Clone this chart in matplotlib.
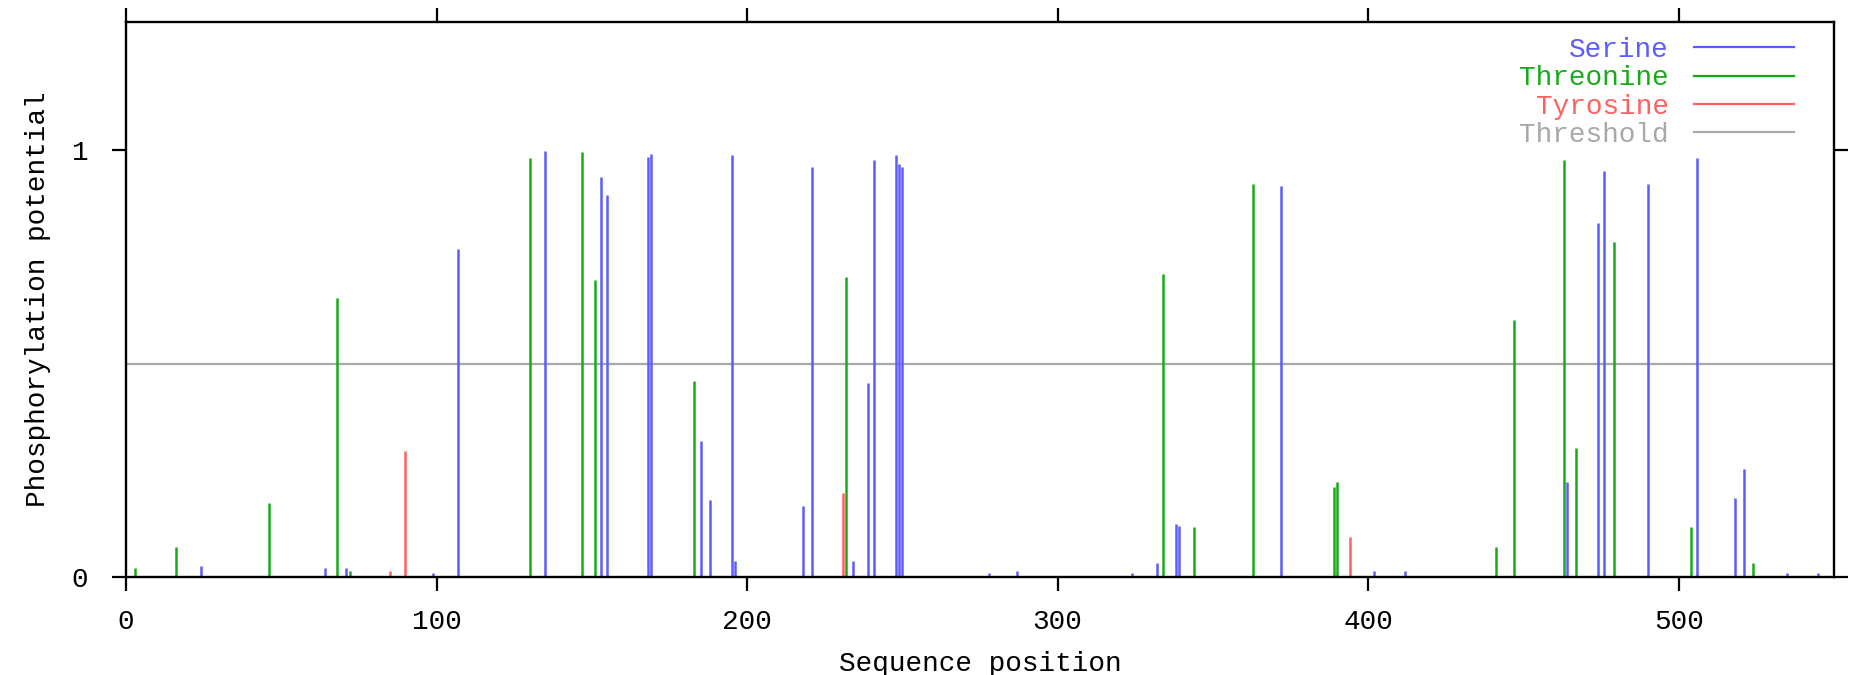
import matplotlib
matplotlib.use('Agg')
import matplotlib.pyplot as plt
from matplotlib.lines import Line2D

# NetPhos style phosphorylation potential per residue
serine_pos = [24, 64, 71, 99, 107, 135, 153, 155, 168, 169, 185, 188, 195, 196,
              218, 221, 234, 239, 241, 248, 249, 250, 278, 287, 324, 332, 338,
              339, 372, 402, 412, 464, 474, 476, 490, 506, 518, 521, 535, 545]
serine_val = [0.026, 0.02, 0.02, 0.008, 0.769, 0.998, 0.938, 0.895, 0.985, 0.992,
              0.319, 0.179, 0.99, 0.038, 0.167, 0.96, 0.038, 0.454, 0.977, 0.99,
              0.967, 0.96, 0.008, 0.013, 0.008, 0.032, 0.124, 0.118, 0.916, 0.013,
              0.013, 0.222, 0.83, 0.952, 0.922, 0.983, 0.185, 0.253, 0.008, 0.008]

threonine_pos = [3, 16, 46, 68, 72, 130, 147, 151, 183, 232, 334, 344, 363, 389,
                 390, 441, 447, 463, 467, 479, 504, 524]
threonine_val = [0.02, 0.069, 0.174, 0.653, 0.013, 0.983, 0.996, 0.695, 0.46,
                 0.704, 0.709, 0.116, 0.92, 0.21, 0.222, 0.069, 0.603, 0.978,
                 0.301, 0.786, 0.117, 0.032]

tyrosine_pos = [85, 90, 231, 394]
tyrosine_val = [0.013, 0.296, 0.197, 0.094]

threshold = 0.5
seq_len = 550

c_ser = '#5c5cff'
c_thr = '#18aa18'
c_tyr = '#ff6060'
c_thres = '#a8a8a8'

plt.rcParams['font.family'] = ['Liberation Mono', 'DejaVu Sans Mono']
fs = 20

fig = plt.figure(figsize=(18.61, 6.75), dpi=100)
ax = fig.add_axes([0.0677, 0.1456, 0.9855 - 0.0677, 0.9667 - 0.1456])

ax.axhline(threshold, color=c_thres, linewidth=1.6, zorder=1)
ax.vlines(serine_pos, 0, serine_val, color=c_ser, linewidth=1.8, zorder=2)
ax.vlines(threonine_pos, 0, threonine_val, color=c_thr, linewidth=1.8, zorder=2)
ax.vlines(tyrosine_pos, 0, tyrosine_val, color=c_tyr, linewidth=1.8, zorder=2)

ax.set_xlim(0, seq_len)
ax.set_ylim(0, 1.3)
ax.set_xticks([0, 100, 200, 300, 400, 500])
ax.set_yticks([0, 1])
ax.tick_params(direction='out', length=10, width=1.6, labelsize=fs,
               top=True, right=True)
ax.tick_params(axis='x', pad=13)
ax.tick_params(axis='y', pad=17)
for s in ax.spines.values():
    s.set_linewidth(1.7)

ax.set_xlabel('Sequence position', fontsize=fs)
ax.set_ylabel('Phosphorylation potential', fontsize=fs)
ax.xaxis.set_label_coords(0.5, -0.134)
ax.yaxis.set_label_coords(-0.044, 0.5)

handles = [Line2D([], [], color=c, linewidth=1.6) for c in (c_ser, c_thr, c_tyr, c_thres)]
ax.legend(handles, ['Serine', 'Threonine', 'Tyrosine', 'Threshold'],
          loc='upper right', bbox_to_anchor=(0.987, 1.006), frameon=False,
          markerfirst=False, labelcolor='linecolor', fontsize=fs,
          handlelength=3.6, handletextpad=0.9, labelspacing=0.08,
          borderaxespad=0.25)

fig.savefig('out.png', dpi=100)
